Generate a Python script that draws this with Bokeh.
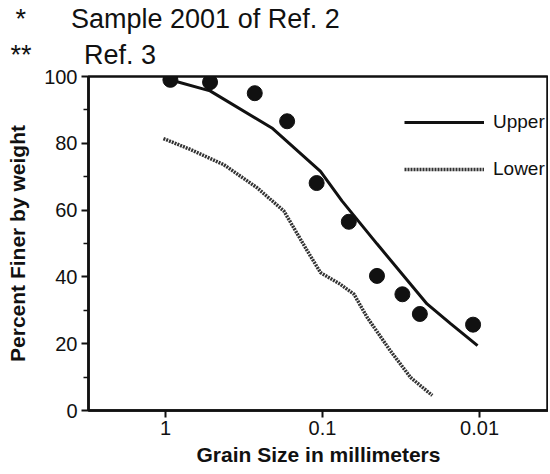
from bokeh.plotting import figure
from bokeh.models import Range1d, FixedTicker, CustomJSTickFormatter, Legend, LegendItem, Title
from bokeh.embed import file_html
from bokeh.resources import INLINE

# Sample 2001 (dots)
sample_size = [0.93, 0.52, 0.27, 0.168, 0.109, 0.068, 0.045, 0.031, 0.024, 0.011]
sample_pct = [99.0, 98.3, 95.0, 86.6, 68.1, 56.5, 40.3, 34.8, 28.9, 25.7]
# Upper limit (solid)
upper_size = [0.90, 0.52, 0.21, 0.103, 0.075, 0.045, 0.0216, 0.0153, 0.0103]
upper_pct = [98.8, 95.7, 84.6, 71.6, 62.7, 49.9, 31.9, 26.0, 19.4]
# Lower limit (dotted)
lower_size = [1.03, 0.69, 0.425, 0.261, 0.176, 0.125, 0.103, 0.077, 0.063, 0.052, 0.037, 0.0275, 0.020]
lower_pct = [81.4, 78.1, 73.6, 66.7, 59.7, 47.8, 41.3, 37.8, 34.8, 27.9, 17.9, 9.9, 4.5]

x_ticks = [1, 0.1, 0.01]
y_ticks = [0, 20, 40, 60, 80, 100]
y_minor = [10, 30, 50, 70, 90]

FONT = "Liberation Sans"
INK = "#111111"
NB = "\u00a0"

p = figure(width=548, height=474, x_axis_type="log",
           x_range=Range1d(3.09, 0.00364), y_range=Range1d(0, 100),
           output_backend="svg", toolbar_location=None,
           min_border_left=88, min_border_right=0, min_border_top=76, min_border_bottom=64)
p.grid.visible = False
p.outline_line_color = INK
p.outline_line_width = 2.5

upper = p.line(upper_size, upper_pct, line_color=INK, line_width=3)
lower = p.line(lower_size, lower_pct, line_color="#333333", line_width=3.5, line_dash="2 1")
p.scatter(sample_size, sample_pct, size=15, color=INK)

legend = Legend(items=[LegendItem(label="Upper", renderers=[upper]),
                       LegendItem(label="Lower", renderers=[lower])],
                location=(316, 229), orientation="vertical",
                glyph_width=80, glyph_height=24, label_height=24, spacing=23,
                padding=0, margin=0, label_standoff=9,
                label_text_font=FONT, label_text_font_size="19px", label_text_color=INK,
                background_fill_alpha=0, border_line_color=None)
p.add_layout(legend, "center")

xa = p.xaxis[0]
xa.ticker = FixedTicker(ticks=x_ticks, minor_ticks=[])
xa.formatter = CustomJSTickFormatter(code="return tick.toString();")
xa.axis_label = "Grain Size in millimeters"
ya = p.yaxis[0]
ya.ticker = FixedTicker(ticks=y_ticks, minor_ticks=y_minor)
ya.axis_label = "Percent Finer by weight"

for ax in (xa, ya):
    ax.axis_line_color = INK
    ax.axis_line_width = 2.5
    ax.major_tick_line_color = INK
    ax.major_tick_line_width = 2
    ax.major_tick_out = 7
    ax.major_tick_in = 0
    ax.minor_tick_line_color = INK
    ax.minor_tick_line_width = 1.5
    ax.minor_tick_out = 5
    ax.minor_tick_in = 0
    ax.major_label_text_font = FONT
    ax.major_label_text_font_size = "20px"
    ax.major_label_text_color = INK
    ax.axis_label_text_font = FONT
    ax.axis_label_text_font_style = "bold"
    ax.axis_label_text_font_size = "21px"
    ax.axis_label_text_color = INK
xa.major_label_standoff = 3
xa.axis_label_standoff = 5
ya.major_label_standoff = 4
ya.axis_label_standoff = 12

ref_title = Title(text="**" + NB * 7 + "Ref. 3", align="left", offset=-78, standoff=13,
                  text_font=FONT, text_font_size="27px", text_font_style="normal", text_color=INK)
sample_title = Title(text="*" + NB * 6 + "Sample 2001 of Ref. 2", align="left", offset=-73, standoff=-5,
                     text_font=FONT, text_font_size="27px", text_font_style="normal", text_color=INK)
p.add_layout(ref_title, "above")
p.add_layout(sample_title, "above")

open("out.html", "w").write(file_html(p, INLINE))
